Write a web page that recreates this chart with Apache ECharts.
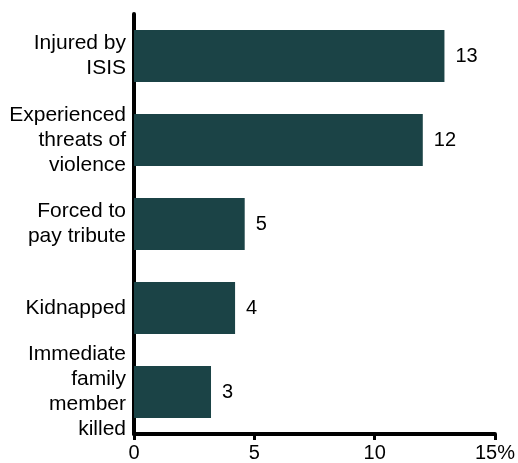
<!DOCTYPE html>
<html>
<head>
<meta charset="utf-8">
<script src="https://cdn.jsdelivr.net/npm/echarts@6/dist/echarts.min.js"></script>
<style>html,body{margin:0;padding:0;background:#fff}#c{width:518px;height:463px}</style>
</head>
<body>
<div id="c"></div>
<script>
var categories = ["Injured by\nISIS", "Experienced\nthreats of\nviolence", "Forced to\npay tribute", "Kidnapped", "Immediate\nfamily\nmember\nkilled"];
var values = [12.9, 12.0, 4.6, 4.2, 3.2];
var valueLabels = ["13", "12", "5", "4", "3"];
var tickLabels = {0: "0", 5: "5", 10: "10", 15: "15%"};

var chart = echarts.init(document.getElementById('c'), null, {renderer: 'canvas'});
chart.setOption({
  animation: false,
  grid: {left: 134, right: 21, top: 14, bottom: 26, containLabel: false},
  xAxis: {
    type: 'value', min: 0, max: 15, interval: 5,
    axisLine: {show: true, lineStyle: {color: '#000', width: 4}},
    axisTick: {show: true, length: 6, lineStyle: {color: '#000', width: 3}},
    splitLine: {show: false},
    axisLabel: {
      color: '#000', fontFamily: 'Liberation Sans, Arial, sans-serif', fontSize: 20, margin: 9,
      formatter: function (v) { return tickLabels[v] !== undefined ? tickLabels[v] : ''; }
    }
  },
  yAxis: {
    type: 'category', data: categories, inverse: true,
    axisLine: {show: true, onZero: false, lineStyle: {color: '#000', width: 4}},
    axisTick: {show: false},
    axisLabel: {
      color: '#000', fontFamily: 'Liberation Sans, Arial, sans-serif', fontSize: 21, lineHeight: 25,
      align: 'right', margin: 8
    }
  },
  series: [{
    type: 'bar', data: values, barWidth: 52,
    itemStyle: {color: '#1b4346'},
    label: {
      show: true, position: 'right', distance: 11, color: '#000',
      fontFamily: 'Liberation Sans, Arial, sans-serif', fontSize: 20,
      formatter: function (p) { return valueLabels[p.dataIndex]; }
    }
  }]
});
</script>
</body>
</html>
